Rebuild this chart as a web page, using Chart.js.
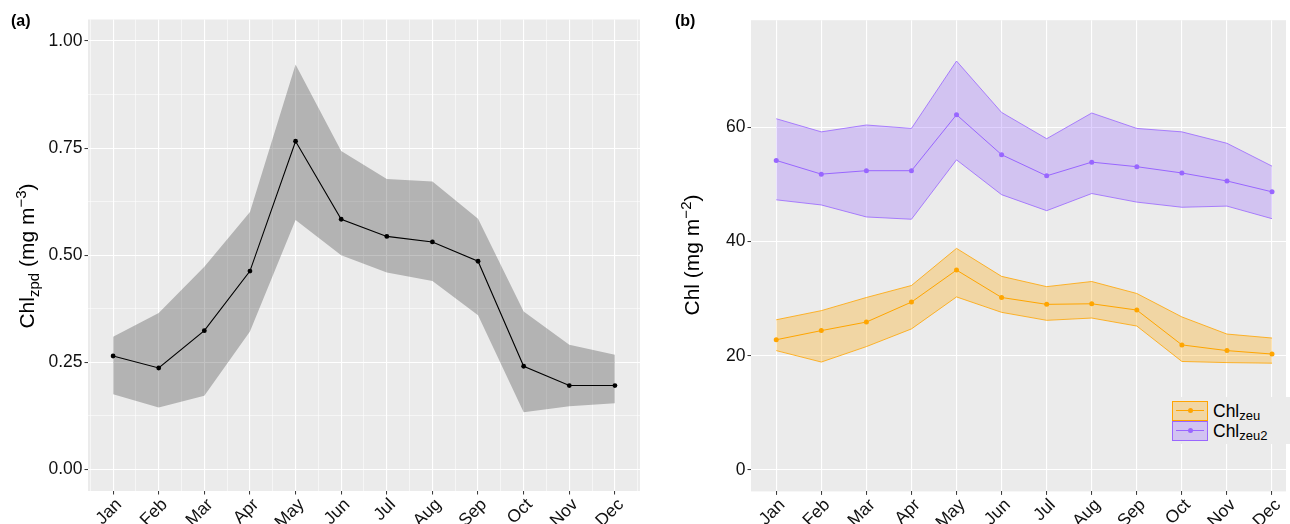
<!DOCTYPE html>
<html>
<head>
<meta charset="utf-8">
<script src="https://cdn.jsdelivr.net/npm/chart.js@4.4.1/dist/chart.umd.min.js"></script>
<style>
html,body{margin:0;padding:0;background:#fff;overflow:hidden;width:1290px;height:524px;
  font-family:"Liberation Sans",Arial,Helvetica,sans-serif;color:#000;}
canvas{position:absolute;top:0;}
.tag{position:absolute;font-weight:bold;font-size:16px;line-height:1;}
.ytitle{position:absolute;white-space:nowrap;font-size:21px;line-height:1;
  transform:translate(-50%,-50%) rotate(-90deg);}
.ytitle sub,.ytitle sup,.leg sub{font-size:15px;line-height:0;position:relative;vertical-align:baseline;}
.ytitle sub{top:0.3em;}
.ytitle sup{top:-0.55em;}
.leg{position:absolute;font-size:17.5px;line-height:1;white-space:nowrap;}
.leg sub{font-size:13px;top:0.25em;}
.key{position:absolute;box-sizing:border-box;}
.key .ln{position:absolute;left:3px;right:3px;top:50%;height:1px;margin-top:-0.5px;}
.key .dt{position:absolute;left:50%;top:50%;width:5px;height:5px;margin:-2.5px 0 0 -2.5px;border-radius:50%;}
</style>
</head>
<body>
<canvas id="ca" width="645" height="524" style="left:0"></canvas>
<canvas id="cb" width="645" height="524" style="left:645px"></canvas>

<div class="tag" style="left:11px;top:13px">(a)</div>
<div class="tag" style="left:675px;top:13px">(b)</div>
<div class="ytitle" style="left:26px;top:256px">Chl<sub>zpd</sub> (mg m<sup>−3</sup>)</div>
<div class="ytitle" style="left:691px;top:255px">Chl (mg m<sup>−2</sup>)</div>
<div id="legend"></div>

<script>
// ---------- data ----------
const months = ['Jan','Feb','Mar','Apr','May','Jun','Jul','Aug','Sep','Oct','Nov','Dec'];

const chlZpdMean  = [0.265,0.237,0.324,0.463,0.766,0.584,0.544,0.531,0.486,0.241,0.196,0.196];
const chlZpdUpper = [0.310,0.365,0.473,0.601,0.945,0.743,0.678,0.672,0.585,0.369,0.291,0.268];
const chlZpdLower = [0.176,0.145,0.172,0.322,0.582,0.500,0.460,0.440,0.360,0.134,0.148,0.155];

const zeuMean   = [22.8,24.4,25.9,29.4,35.0,30.2,29.0,29.1,28.0,21.9,20.9,20.3];
const zeuUpper  = [26.3,27.9,30.2,32.3,38.8,33.9,32.1,33.0,30.9,26.8,23.8,23.1];
const zeuLower  = [20.9,18.9,21.6,24.7,30.3,27.6,26.2,26.6,25.2,19.0,18.8,18.7];

const zeu2Mean  = [54.2,51.8,52.4,52.4,62.2,55.2,51.5,53.9,53.1,52.0,50.6,48.7];
const zeu2Upper = [61.5,59.2,60.4,59.8,71.6,62.6,58.0,62.5,59.8,59.2,57.2,53.2];
const zeu2Lower = [47.3,46.4,44.3,43.9,54.3,48.2,45.4,48.4,46.9,46.0,46.2,44.0];

const yMajorA = [0,0.25,0.5,0.75,1];
const yMinorA = [0.125,0.375,0.625,0.875];
const xMajor  = [1,2,3,4,5,6,7,8,9,10,11,12];
const xMinorA = [0.5,1.5,2.5,3.5,4.5,5.5,6.5,7.5,8.5,9.5,10.5,11.5,12.5];
const yMajorB = [0,20,40,60];

const legendItems = [
  {name:'Chl', sub:'zeu',  color:'#FFA500', fill:'rgba(255,165,0,0.3)'},
  {name:'Chl', sub:'zeu2', color:'#9966FF', fill:'rgba(153,102,255,0.3)'}
];

// ---------- helpers ----------
const FONT = '"Liberation Sans", Arial, Helvetica, sans-serif';
const xy = arr => arr.map((v,i)=>({x:i+1, y:v}));
const near = (a,v) => a.some(t=>Math.abs(t-v)<1e-9);

const bgPlugin = {id:'panelbg', beforeDraw(c){
  const a=c.chartArea, g=c.ctx; g.save(); g.fillStyle='#ebebeb';
  g.fillRect(a.left,a.top,a.right-a.left,a.bottom-a.top); g.restore();
}};

function gridOpts(major){
  return {
    color:'#ffffff',
    lineWidth: c => (c.tick && near(major,c.tick.value)) ? 1.1 : 0.55,
    tickColor: c => (c.tick && near(major,c.tick.value)) ? '#333333' : 'rgba(0,0,0,0)',
    tickLength:3.5, tickWidth:1, drawTicks:true
  };
}

function xScale(min,max,major,minor,h){
  const all = major.concat(minor).sort((a,b)=>a-b);
  return {
    type:'linear', min:min, max:max,
    afterBuildTicks: s => { s.ticks = all.map(v=>({value:v})); },
    afterFit: s => { s.height=h; s.paddingLeft=0; s.paddingRight=0; s.paddingTop=0; s.paddingBottom=0; },
    ticks:{autoSkip:false, minRotation:45, maxRotation:45, padding:0, labelOffset:6, color:'#111',
      font:{family:FONT,size:17.5},
      callback: v => near(major,v) ? months[Math.round(v)-1] : ''},
    grid:gridOpts(major), border:{display:false}
  };
}
function yScale(min,max,major,minor,w,fmt){
  const all = major.concat(minor).sort((a,b)=>a-b);
  return {
    type:'linear', min:min, max:max,
    afterBuildTicks: s => { s.ticks = all.map(v=>({value:v})); },
    afterFit: s => { s.width=w; s.paddingTop=0; s.paddingBottom=0; s.paddingLeft=0; s.paddingRight=0; },
    ticks:{padding:2, color:'#111', font:{family:FONT,size:17.5},
      callback: v => near(major,v) ? fmt(v) : ''},
    grid:gridOpts(major), border:{display:false}
  };
}

const common = {
  responsive:false, animation:false, devicePixelRatio:1,
  plugins:{legend:{display:false}, tooltip:{enabled:false}},
  elements:{line:{tension:0}}
};

// ---------- panel (a) ----------
new Chart(document.getElementById('ca'), {
  type:'line',
  data:{datasets:[
    {data:xy(chlZpdUpper), borderColor:'rgba(0,0,0,0)', borderWidth:0, pointRadius:0, fill:'+1', backgroundColor:'rgba(0,0,0,0.24)'},
    {data:xy(chlZpdLower), borderColor:'rgba(0,0,0,0)', borderWidth:0, pointRadius:0, fill:false},
    {data:xy(chlZpdMean), borderColor:'#000', borderWidth:1.1, pointRadius:2.4,
      pointBackgroundColor:'#000', pointBorderWidth:0, fill:false}
  ]},
  options:Object.assign({}, common, {
    layout:{padding:{top:19.5,right:5,left:0,bottom:0}},
    scales:{
      x:xScale(0.45,12.55,xMajor,xMinorA,33),
      y:yScale(-0.05,1.05,yMajorA,yMinorA,88,v=>v.toFixed(2))
    }
  }),
  plugins:[bgPlugin]
});

// ---------- panel (b) ----------
const bandB = (arr,c,fill,f) => ({data:xy(arr), borderColor:c, borderWidth:0.8, pointRadius:0, fill:f, backgroundColor:fill});
const meanB = (arr,c) => ({data:xy(arr), borderColor:c, borderWidth:1, pointRadius:2.5, pointBackgroundColor:c, pointBorderWidth:0, fill:false});
new Chart(document.getElementById('cb'), {
  type:'line',
  data:{datasets:[
    bandB(zeuUpper, legendItems[0].color, legendItems[0].fill, '+1'),
    bandB(zeuLower, legendItems[0].color, legendItems[0].fill, false),
    meanB(zeuMean, legendItems[0].color),
    bandB(zeu2Upper, legendItems[1].color, legendItems[1].fill, '+1'),
    bandB(zeu2Lower, legendItems[1].color, legendItems[1].fill, false),
    meanB(zeu2Mean, legendItems[1].color)
  ]},
  options:Object.assign({}, common, {
    layout:{padding:{top:20.2,right:0,left:0,bottom:0}},
    scales:{
      x:xScale(0.44,12.31,xMajor,[],32.6),
      y:yScale(-3.75,78.75,yMajorB,[],106,v=>String(v))
    }
  }),
  plugins:[bgPlugin]
});

// ---------- legend (HTML, with subscripts) ----------
(function(){
  const L = document.getElementById('legend');
  let html = '<div style="position:absolute;left:1167px;top:397px;width:123px;height:47px;background:#ebebeb"></div>';
  legendItems.forEach((it,i)=>{
    const top = 401 + i*20;
    html += '<div class="key" style="left:1172px;top:'+top+'px;width:36px;height:19.5px;border:1px solid '+it.color+';background:'+it.fill+'">'+
            '<div class="ln" style="background:'+it.color+'"></div><div class="dt" style="background:'+it.color+'"></div></div>';
    html += '<div class="leg" style="left:1213px;top:'+(top+2)+'px">'+it.name+'<sub>'+it.sub+'</sub></div>';
  });
  L.innerHTML = html;
})();
</script>
</body>
</html>
